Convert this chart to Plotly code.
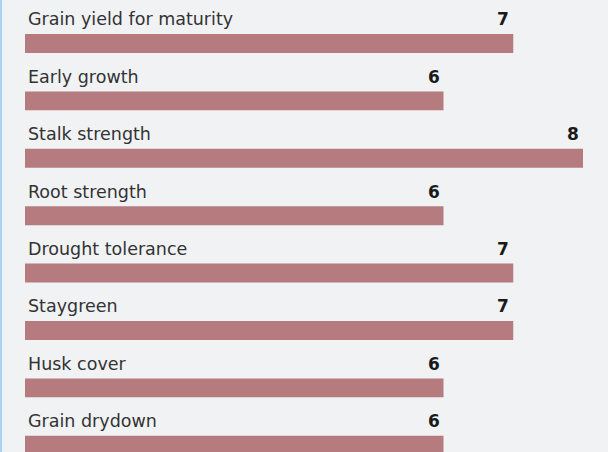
import plotly.graph_objects as go

# Trait ratings (scale 1-9)
traits = [
    "Grain yield for maturity",
    "Early growth",
    "Stalk strength",
    "Root strength",
    "Drought tolerance",
    "Staygreen",
    "Husk cover",
    "Grain drydown",
]
ratings = [7, 6, 8, 6, 7, 7, 6, 6]

BAR_COLOR = "#b57b7f"
BG = "#f1f2f4"
TEXT = "#333333"
LABEL_OFFSET = -0.42  # label sits above each bar

positions = list(range(len(traits)))

fig = go.Figure(
    go.Bar(
        x=ratings,
        y=positions,
        orientation="h",
        width=0.33,
        marker=dict(color=BAR_COLOR, line=dict(width=0)),
        hoverinfo="skip",
    )
)

annotations = []
for pos, name, val in zip(positions, traits, ratings):
    annotations.append(dict(
        x=0, y=pos + LABEL_OFFSET, xref="x", yref="y",
        text=name, showarrow=False, xanchor="left", yanchor="middle", xshift=1,
        font=dict(family="DejaVu Sans, sans-serif", size=17.5, color=TEXT),
    ))
    annotations.append(dict(
        x=val, y=pos + LABEL_OFFSET, xref="x", yref="y",
        text=f"<b>{val}</b>", showarrow=False, xanchor="right", yanchor="middle",
        xshift=-2,
        font=dict(family="DejaVu Sans, sans-serif", size=17, color="#1a1a1a"),
    ))

fig.update_layout(
    width=608,
    height=452,
    margin=dict(l=25, r=25, t=0, b=0),
    paper_bgcolor=BG,
    plot_bgcolor=BG,
    showlegend=False,
    annotations=annotations,
    xaxis=dict(range=[0, 8], visible=False, fixedrange=True),
    yaxis=dict(range=[7.117, -0.758], visible=False, fixedrange=True),
    shapes=[dict(
        type="line", xref="paper", yref="paper",
        x0=-24 / 558, x1=-24 / 558, y0=0, y1=1,
        line=dict(color="#a9d2f3", width=2),
    )],
)

fig.write_html("out.html")
